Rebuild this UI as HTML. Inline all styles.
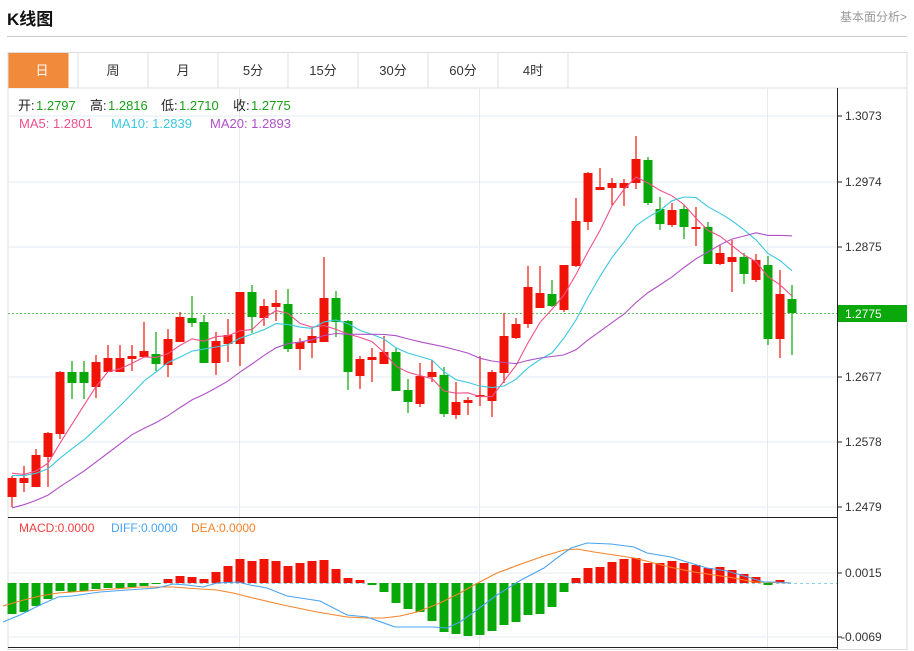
<!DOCTYPE html>
<html><head><meta charset="utf-8">
<style>
html,body{margin:0;padding:0;background:#fff;width:914px;height:651px;overflow:hidden;font-family:"Liberation Sans","Noto Sans CJK SC",sans-serif;}
.t{position:absolute;white-space:nowrap;}
</style></head>
<body>
<div class="t" style="left:7px;top:5px;font-size:17px;font-weight:bold;color:#111;">K线图</div>
<div class="t" style="left:840px;top:8px;font-size:12px;color:#999;">基本面分析&gt;</div>
<div style="position:absolute;left:7px;top:36px;width:900px;height:1px;background:#ccc;"></div>
<svg id="s" width="914" height="651" style="position:absolute;left:0;top:0" xmlns="http://www.w3.org/2000/svg" font-family="Liberation Sans, Noto Sans CJK SC, sans-serif">
<rect x="8" y="52.5" width="899" height="597" fill="none" stroke="#ddd"/>
<line x1="8" y1="88" x2="907" y2="88" stroke="#ddd"/>
<rect x="8.5" y="53" width="60" height="35" fill="#f28a3c"/>
<g stroke="#ddd">
<line x1="78" y1="53" x2="78" y2="88"/><line x1="148" y1="53" x2="148" y2="88"/><line x1="218" y1="53" x2="218" y2="88"/><line x1="288" y1="53" x2="288" y2="88"/><line x1="358" y1="53" x2="358" y2="88"/><line x1="428" y1="53" x2="428" y2="88"/><line x1="498" y1="53" x2="498" y2="88"/><line x1="568" y1="53" x2="568" y2="88"/>
</g>
<g font-size="13" fill="#333" text-anchor="middle">
<text x="42" y="75" fill="#fff">日</text><text x="113" y="75">周</text><text x="183" y="75">月</text><text x="253" y="75">5分</text><text x="323" y="75">15分</text><text x="393" y="75">30分</text><text x="463" y="75">60分</text><text x="533" y="75">4时</text>
</g>
<g stroke="#e3eaf0" stroke-width="1">
<line x1="8" y1="116" x2="837" y2="116"/><line x1="8" y1="182" x2="837" y2="182"/><line x1="8" y1="247" x2="837" y2="247"/><line x1="8" y1="377" x2="837" y2="377"/><line x1="8" y1="442" x2="837" y2="442"/><line x1="8" y1="507" x2="837" y2="507"/>
<line x1="239.5" y1="88" x2="239.5" y2="649"/><line x1="479.5" y1="88" x2="479.5" y2="649"/><line x1="767.5" y1="88" x2="767.5" y2="649"/>
<line x1="8" y1="573" x2="837" y2="573"/><line x1="8" y1="637" x2="837" y2="637"/>
</g>
<line x1="8" y1="517.5" x2="837" y2="517.5" stroke="#222"/>
<line x1="8" y1="647.5" x2="837" y2="647.5" stroke="#222"/>
<line x1="837.5" y1="88" x2="837.5" y2="649" stroke="#222"/>
<g stroke="#222"><line x1="837" y1="116" x2="842" y2="116"/><line x1="837" y1="182" x2="842" y2="182"/><line x1="837" y1="247" x2="842" y2="247"/><line x1="837" y1="377" x2="842" y2="377"/><line x1="837" y1="442" x2="842" y2="442"/><line x1="837" y1="507" x2="842" y2="507"/><line x1="837" y1="573" x2="842" y2="573"/><line x1="837" y1="637" x2="842" y2="637"/></g>
<g font-size="12" fill="#333">
<text x="845" y="120">1.3073</text><text x="845" y="186">1.2974</text><text x="845" y="251">1.2875</text><text x="845" y="381">1.2677</text><text x="845" y="446">1.2578</text><text x="845" y="511">1.2479</text><text x="845" y="577">0.0015</text><text x="841" y="641">-0.0069</text>
</g>
<line x1="8" y1="313.5" x2="837" y2="313.5" stroke="#5cc85c" stroke-dasharray="2,2"/>
<line x1="8" y1="583.5" x2="837" y2="583.5" stroke="#8cd0f0" stroke-dasharray="3,3"/>
<rect x="838" y="305" width="69" height="17" fill="#0aa80a"/>
<text x="845" y="318" font-size="12" fill="#fff">1.2775</text>
<g id="g"></g>
<g font-size="13">
<text x="18" y="110" fill="#222">开:</text><text x="36" y="110" fill="#17a017">1.2797</text>
<text x="90" y="110" fill="#222">高:</text><text x="108" y="110" fill="#17a017">1.2816</text>
<text x="161" y="110" fill="#222">低:</text><text x="179" y="110" fill="#17a017">1.2710</text>
<text x="233" y="110" fill="#222">收:</text><text x="251" y="110" fill="#17a017">1.2775</text>
<text x="19" y="128" fill="#f0508a">MA5: 1.2801</text><text x="111" y="128" fill="#3cc8e0">MA10: 1.2839</text><text x="210" y="128" fill="#b050c8">MA20: 1.2893</text>
</g>
<g font-size="12">
<text x="19" y="532" fill="#f04040">MACD:0.0000</text><text x="111" y="532" fill="#4aa3f0">DIFF:0.0000</text><text x="191" y="532" fill="#f5842a">DEA:0.0000</text>
</g>
</svg>
<script>
var D=[[478,497,476,507,1],[478,483,466,492,1],[455,487,449,487,1],[433,457,432,487,1],[372,434,371,439,1],[372,383,361,399,0],[372,383,361,399,0],[362,387,355,398,1],[358,372,345,372,1],[358,372,345,372,1],[356,359,345,371,1],[351,357,322,357,1],[354,364,332,371,0],[339,365,329,377,1],[317,342,312,342,1],[318,323,296,327,0],[322,363,315,363,0],[341,363,332,375,1],[335,344,319,362,1],[292,344,292,366,1],[292,317,285,333,0],[306,318,299,326,1],[303,307,290,321,1],[304,349,289,352,0],[342,349,338,370,1],[336,343,328,358,1],[298,342,257,342,1],[298,322,291,337,0],[321,372,320,390,0],[359,376,356,389,1],[357,360,348,382,1],[352,364,336,364,1],[352,391,348,391,0],[390,402,379,413,0],[376,404,363,407,1],[372,377,360,382,1],[375,414,367,417,0],[402,415,382,419,1],[400,403,397,415,1],[395,397,356,406,1],[372,401,370,417,1],[336,373,313,383,1],[324,338,318,339,1],[287,324,266,328,1],[293,308,266,308,1],[294,306,280,307,0],[265,310,265,312,1],[221,266,198,267,1],[173,222,172,230,1],[187,190,168,190,1],[183,188,178,205,1],[183,188,179,206,1],[159,183,136,189,1],[160,203,157,205,0],[209,224,197,230,0],[210,225,203,227,1],[209,227,205,239,0],[227,229,207,246,1],[227,264,222,264,0],[253,264,245,265,1],[257,262,240,292,1],[257,274,253,284,0],[260,280,254,282,1],[265,339,256,345,0],[294,339,270,358,1],[299,313,285,355,0]];
var H=[614,612,606,599,591,592,591,589,588,588,587,586,584,579,576,577,579,572,566,559,561,559,561,566,563,561,560,569,578,580,585,592,603,609,612,621,632,634,636,635,631,625,622,615,614,607,592,578,568,567,562,559,558,563,563,561,563,565,568,567,570,574,577,585,580,583];
var DIFF=[[3,622],[20,615],[40,605],[58,597],[72,596],[100,592],[127,590],[157,588],[173,584],[187,585],[203,587],[217,583],[238,582],[250,585],[267,588],[287,596],[320,601],[347,615],[367,617],[395,627],[417,627],[433,627],[447,628],[460,622],[474,612],[497,595],[521,580],[544,568],[557,558],[571,548],[587,543],[611,544],[634,547],[647,553],[671,557],[687,562],[707,568],[727,571],[744,576],[764,582],[774,582],[791,583]];
var DEA=[[3,606],[20,601],[40,596],[58,593],[100,590],[140,587],[173,587],[200,589],[217,590],[233,593],[253,598],[283,605],[317,612],[347,617],[367,618],[383,618],[400,616],[417,612],[440,603],[460,593],[474,585],[497,573],[521,564],[544,556],[564,550],[577,549],[594,552],[614,555],[634,558],[654,563],[674,568],[694,572],[714,575],[734,578],[754,582],[791,583]];
var ns="http://www.w3.org/2000/svg",g=document.getElementById('g');
function el(t,a){var e=document.createElementNS(ns,t);for(var k in a)e.setAttribute(k,a[k]);g.appendChild(e);return e;}
var R='#f01408',G='#08a808';
for(var i=0;i<D.length;i++){var d=D[i],x=12+12*i,c=d[4]?R:G;
el('line',{x1:x,y1:d[2],x2:x,y2:d[3],stroke:c,'stroke-width':1.2});
el('rect',{x:x-4.5,y:d[0],width:9,height:Math.max(d[1]-d[0],2),fill:c});
var h=H[i];if(Math.abs(h-583)>=1){el('rect',{x:x-4.5,y:Math.min(h,583),width:9,height:Math.abs(h-583),fill:h<583?R:G});}}
var cl=[540,540,540,540,540,540,540,540,540,540,478,478,478,478,478,472,472,472,472];
for(i=0;i<D.length;i++)cl.push(D[i][4]?D[i][0]:D[i][1]);
function ma(n,col){var p=[];for(var i=0;i<D.length;i++){var j=i+19,s=0;for(var k=0;k<n;k++)s+=cl[j-k];p.push((12+12*i)+','+(s/n).toFixed(1));}
el('polyline',{points:p.join(' '),fill:'none',stroke:col,'stroke-width':1.1});}
ma(5,'#f0508a');ma(10,'#3cc8e0');ma(20,'#b050c8');
function pl(a,col){el('polyline',{points:a.map(function(q){return q.join(',')}).join(' '),fill:'none',stroke:col,'stroke-width':1.1});}
pl(DEA,'#f5842a');pl(DIFF,'#4aa3f0');
</script>
</body></html>
